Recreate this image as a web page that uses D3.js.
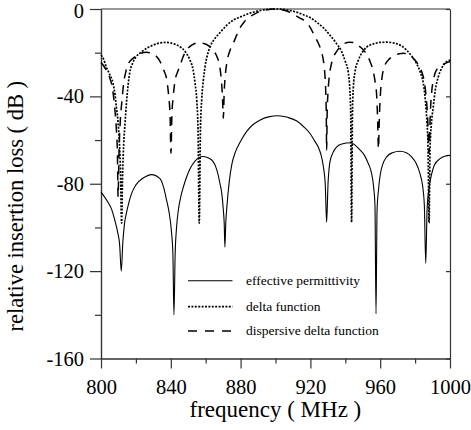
<!DOCTYPE html>
<html>
<head>
<meta charset="utf-8">
<script src="https://cdnjs.cloudflare.com/ajax/libs/d3/7.8.5/d3.min.js"></script>
<style>
body { margin: 0; background: #fff; }
svg { display: block; font-family: "Liberation Serif", "Times New Roman", serif; }
</style>
</head>
<body>
<script>
// 刻度
const freqTicks = [800, 840, 880, 920, 960, 1000];
const freqMinor = [820, 860, 900, 940, 980];
const lossTicks = [-160, -120, -80, -40, 0];
const lossMinor = [-140, -100, -60, -20];

// 图例文字
const seriesNames = ['effective permittivity', 'delta function', 'dispersive delta function'];

// [频率 MHz, 插损 dB]
const effective = [
    [800, -83.8], [802, -86], [804, -88.5], [806, -91.5], [808, -97], [809.5, -102],
    [810.7, -108], [811.6, -120], [812.5, -107], [813.5, -98], [814.5, -93.7], [816, -88.5],
    [817.5, -84.5], [820, -80.5], [824, -77.5], [829, -75.8], [833.8, -77.7], [836, -82],
    [837.6, -87.6], [839, -93], [840.5, -103], [841.2, -112], [841.8, -140], [842.5, -112],
    [843.3, -100], [844.3, -92.2], [845.7, -86], [847.2, -81.5], [849, -77], [851, -73.1],
    [854, -69.5], [858.2, -67.5], [861, -68], [864.4, -70], [866.5, -74], [868.2, -80],
    [869.3, -85], [870.1, -92], [870.6, -98], [871, -109], [871.5, -98], [872.3, -89],
    [873.5, -79], [875, -71], [877, -65.5], [880, -60.5], [883.5, -56], [887, -53],
    [891, -50.9], [896, -49.4], [901.6, -48.9], [907, -49.6], [912, -51.2], [916, -53.8],
    [919.8, -57], [922.5, -60.5], [924.5, -63.2], [926, -66.5], [927.4, -72], [928.5, -80],
    [929.3, -97.6], [930.1, -80], [931.2, -70], [932.8, -66], [935, -63.2], [938, -61.8],
    [943, -61.2], [948.4, -64.5], [951, -67], [953.2, -70.8], [955, -75], [956.3, -82],
    [957, -90], [957.6, -139.5], [958.2, -92], [959, -83], [960, -76], [961.5, -71],
    [963.7, -67.7], [967, -65.8], [971.3, -65.1], [975, -65.8], [978, -67.7], [980.5, -70.5],
    [982.8, -75.4], [984.3, -81], [985.3, -90], [986.1, -116.4], [986.9, -91], [988, -82],
    [989.5, -75.5], [991, -71.5], [994.3, -68.5], [997, -67.4], [1000, -67]
];

const delta = [
    [800, -21.1], [801.5, -23], [803, -26.5], [805, -30], [806.9, -34], [808, -39],
    [808.8, -44.8], [809.8, -52], [810.6, -62], [811.2, -75], [811.8, -98], [812.4, -75],
    [813, -62], [813.8, -52], [814.6, -43], [815.5, -35], [816.4, -29.5], [818.3, -24.5],
    [820, -22], [823, -19.8], [826.5, -17.8], [830, -16.5], [834, -15.5], [837, -15.3],
    [841, -15.8], [845.3, -17.3], [848.5, -19.8], [851, -23.4], [852.7, -27.5], [853.9, -34],
    [854.9, -42], [855.6, -55], [856.3, -98], [857, -55], [857.7, -41.7], [858.6, -33],
    [859.6, -26.5], [861, -21], [862.5, -17.3], [865, -13.8], [868, -11], [872, -7.5],
    [876, -5], [880, -3.6], [885, -2], [890, -0.9], [895, -0.2], [900.5, 0],
    [906, -0.3], [911, -1.2], [915.5, -2.5], [920, -4], [924, -6.3], [928, -9],
    [931.2, -12], [934.5, -15.3], [937.9, -19.5], [940, -24], [941.7, -29], [942.6, -37],
    [943.1, -48], [943.6, -97.6], [944.1, -48], [944.6, -36], [945.5, -29], [947.5, -23.4],
    [950, -19.5], [952.2, -17.5], [956, -16], [960, -15.3], [963.7, -15.2], [968, -15.6],
    [972, -16.8], [975.1, -18.8], [978, -21.5], [980.9, -25], [983, -29], [984.7, -34],
    [985.9, -42], [986.8, -52], [987.4, -63], [988, -98], [988.6, -63], [989.3, -53],
    [990.4, -44.8], [991.5, -37.5], [993.3, -31], [995, -27.5], [996.2, -25.7], [1000, -23.4]
];

const dispersive = [
    [800, -24.5], [801.5, -26], [803, -28], [805, -31.5], [806.5, -36], [807.8, -44.8],
    [808.8, -55], [809.4, -66], [809.8, -86], [810.3, -66], [811, -52], [812, -42],
    [813, -34], [814.3, -28.5], [815.7, -25], [818.5, -22.5], [822, -20.6], [826, -19.8],
    [830, -20.6], [833.8, -24], [836, -28], [837.8, -33], [838.8, -40], [839.6, -49],
    [840.1, -66], [840.6, -49], [841.4, -40], [842.4, -33], [843.8, -29], [845.3, -26],
    [847, -22], [849.1, -18.8], [852, -16.5], [855.5, -15.5], [859, -15.8], [862, -17],
    [865, -19.5], [866.8, -22.5], [868, -26], [868.9, -32], [869.6, -40], [870.1, -50],
    [870.6, -38], [871.4, -29], [872.5, -23], [874, -18.8], [876, -15.3], [878, -11.5],
    [880, -8.2], [882, -6], [884.5, -4], [887.3, -2.6], [891, -1.2], [895, -0.4],
    [900, 0], [905, -0.6], [909, -1.8], [911.5, -3], [914, -4.2], [918, -6.2],
    [920.5, -9.3], [922.6, -12.7], [925, -16.5], [926.7, -20.5], [927.7, -25], [928.3, -30],
    [928.8, -38], [929.1, -48], [929.3, -64.7], [929.6, -48], [930.1, -38], [930.8, -31],
    [931.8, -26], [933.2, -22], [935, -19.5], [938, -16.5], [942.5, -15.2], [945.5, -15.5],
    [948.4, -17.3], [951.3, -19.6], [954.2, -24], [956, -28.5], [957.2, -34], [958, -40],
    [958.5, -50], [959, -64], [959.5, -50], [960.2, -38], [961.1, -31], [962.4, -26.5],
    [964.5, -23.5], [967.5, -21.6], [971, -20.5], [973.5, -20.3], [976, -20.8], [979, -22.6],
    [981.5, -25], [983.7, -28.5], [985.2, -33], [986.3, -40], [987.2, -50], [988, -66],
    [988.7, -48], [989.5, -38], [990.6, -32], [992.2, -28], [994.3, -26.5], [997, -25],
    [1000, -24]
];

// svg区域大小
const width = 471;
const height = 430;
const plot = {left: 101, right: 450, top: 9, bottom: 358.5};
const axisColor = '#333';

const svg = d3.select('body')
    .append('svg')
    .attr('width', width)
    .attr('height', height);

const x = d3.scaleLinear().domain([800, 1000]).range([plot.left, plot.right]);
const y = d3.scaleLinear().domain([-160, 0]).range([plot.bottom, plot.top]);

/**
 * 统一坐标轴样式
 *
 * @param {Object} g 坐标轴选择集
 */
function styleAxis(g) {
    g.selectAll('.domain, .tick line')
        .attr('stroke', axisColor)
        .attr('stroke-width', 1.2);
    g.selectAll('text')
        .attr('fill', '#000')
        .attr('font-size', '20.5px')
        .attr('font-family', '"Liberation Serif", "Times New Roman", serif');
}

// 边框：上、右
svg.append('line')
    .attr('x1', plot.left).attr('x2', plot.right)
    .attr('y1', plot.top).attr('y2', plot.top)
    .attr('stroke', axisColor).attr('stroke-width', 1.2);

svg.append('g')
    .attr('transform', `translate(${plot.right},0)`)
    .call(d3.axisRight(y).tickValues(lossTicks).tickSize(-4).tickSizeOuter(0).tickFormat(''))
    .call(styleAxis);

// x轴
svg.append('g')
    .attr('transform', `translate(0,${plot.bottom})`)
    .call(d3.axisBottom(x).tickValues(freqMinor).tickSize(5).tickSizeOuter(0).tickFormat(''))
    .call(styleAxis);

svg.append('g')
    .attr('transform', `translate(0,${plot.bottom})`)
    .call(d3.axisBottom(x).tickValues(freqTicks).tickSize(10).tickSizeOuter(0)
        .tickPadding(11).tickFormat(d => String(d)))
    .call(styleAxis);

// y轴
svg.append('g')
    .attr('transform', `translate(${plot.left},0)`)
    .call(d3.axisLeft(y).tickValues(lossMinor).tickSize(6).tickSizeOuter(0).tickFormat(''))
    .call(styleAxis);

const yAxis = svg.append('g')
    .attr('transform', `translate(${plot.left},0)`)
    .call(d3.axisLeft(y).tickValues(lossTicks).tickSize(11).tickSizeOuter(0)
        .tickPadding(6).tickFormat(d => String(d)))
    .call(styleAxis);

// 顶部 0 的标签略向下，避免贴边
yAxis.selectAll('.tick text')
    .filter(d => d === 0)
    .attr('dy', '0.4em');

// 轴标题
svg.append('text')
    .attr('x', 189.5)
    .attr('y', 417)
    .attr('font-size', '23px')
    .text('frequency ( MHz )');

svg.append('text')
    .attr('transform', 'translate(23,331.5) rotate(-90)')
    .attr('font-size', '22.5px')
    .text('relative insertion loss ( dB )');

// 曲线
const line = d3.line()
    .x(d => x(d[0]))
    .y(d => y(d[1]))
    .curve(d3.curveMonotoneX);

const styles = [
    {data: effective, width: 1.1, dash: null},
    {data: delta, width: 1.7, dash: '2,1.4'},
    {data: dispersive, width: 1.5, dash: '9,7'}
];

styles.forEach(s => {
    svg.append('path')
        .datum(s.data)
        .attr('fill', 'none')
        .attr('stroke', '#000')
        .attr('stroke-width', s.width)
        .attr('stroke-dasharray', s.dash)
        .attr('d', line);
});

// 图例
const legendY = [280.7, 306.7, 331];
const legendDash = [null, '2,1.4', '9,8'];
seriesNames.forEach((name, i) => {
    svg.append('line')
        .attr('x1', 188).attr('x2', 232.5)
        .attr('y1', legendY[i]).attr('y2', legendY[i])
        .attr('stroke', '#000')
        .attr('stroke-width', styles[i].width)
        .attr('stroke-dasharray', legendDash[i]);
    svg.append('text')
        .attr('x', 246)
        .attr('y', legendY[i] + 4)
        .attr('font-size', '13.5px')
        .text(name);
});
</script>
</body>
</html>
